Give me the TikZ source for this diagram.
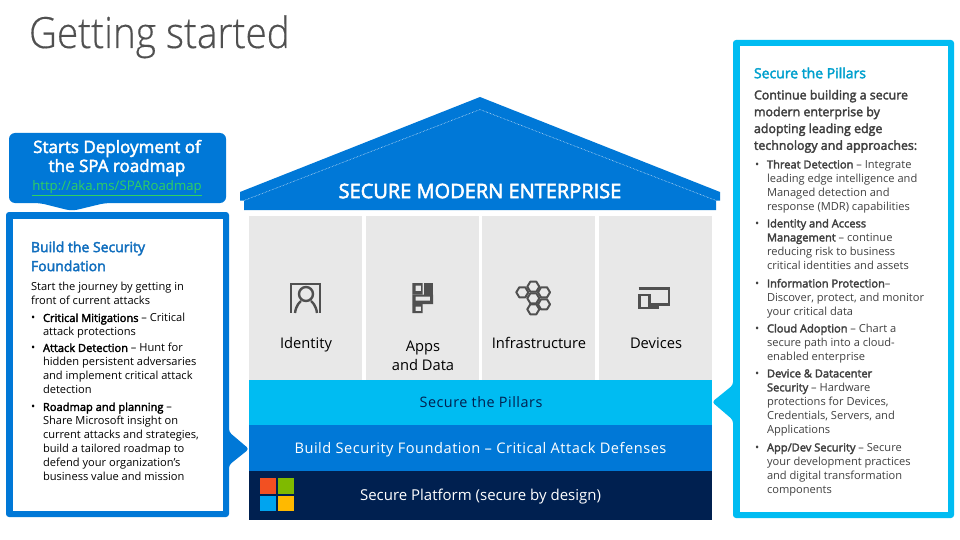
\documentclass[tikz,border=0pt]{standalone}
\usepackage{fontspec}
\setmainfont[BoldFont={Open Sans},BoldFeatures={FakeBold=2.6}]{Open Sans}
\newfontfamily\lightfont[FakeStretch=0.9,FakeBold=0.35]{Open Sans Light}
\newfontfamily\spacedfont[LetterSpace=3.5]{Open Sans}
\definecolor{cyanb}{HTML}{00BCF2}
\definecolor{blueb}{HTML}{0078D7}
\definecolor{navyb}{HTML}{002050}
\definecolor{greyc}{HTML}{E8E8E8}
\definecolor{icong}{HTML}{505050}
\definecolor{bodyg}{HTML}{404040}
\definecolor{linkg}{HTML}{30D060}
\definecolor{ltitle}{HTML}{106EBE}
\definecolor{msred}{HTML}{F25022}
\definecolor{msgreen}{HTML}{7FBA00}
\definecolor{msblue}{HTML}{00A4EF}
\definecolor{msyellow}{HTML}{FFB900}
\newcommand{\fs}[2]{\fontsize{#1}{#2}\selectfont}
\newcommand{\bl}[1]{\makebox[12pt][l]{\textbullet}#1}
\newcommand{\ct}[1]{\hspace*{12pt}#1}
\tikzset{
  x=1pt,y=-1pt,
  txt/.style={inner sep=0pt,outer sep=0pt},
  blk/.style={txt,align=left,anchor=north west},
  col/.style={fill=greyc,draw=none},
  lab/.style={txt,font=\fs{14.7}{19},text=black,align=center,anchor=base},
  icon/.style={draw=icong,line width=2.4pt,fill=none},
  iconf/.style={fill=icong,draw=none}
}
\begin{document}
\begin{tikzpicture}
\useasboundingbox (0,0) rectangle (960,540);
\fill[white] (0,0) rectangle (960,540);
\node[txt,anchor=base west,text=icong] (title) at (29,48) {\lightfont\fs{43}{48}Getting started};
% left callout
\fill[blueb,rounded corners=6pt] (9,133) -- (226,133) -- (226,203) -- (105,203) -- (72,211) -- (40,203) -- (9,203) -- cycle;
\node[txt,text=white,align=center,font=\bfseries\fs{17}{19}] (starts) at (117,158) {Starts Deployment of\\the SPA roadmap};
\node[txt,text=linkg,font=\fs{13.2}{14}] (link) at (117,188) {\underline{http://aka.ms/SPARoadmap}};
% left box
\fill[blueb,rounded corners=3pt] (6,212) -- (229,212) -- (229,432) -- (249,449) -- (229,465) -- (229,517) -- (6,517) -- cycle;
\fill[white] (12.5,218.5) rectangle (222.5,510.5);
\node[blk,text=ltitle,font=\bfseries\fs{14}{19}] (ltit) at (31,241.5) {Build the Security\\Foundation};
\node[blk,text=black,font=\fs{11.1}{14}] (lbody) at (31,282.5) {Start the journey by getting in\\
front of current attacks\\[3pt]
\bl{\textbf{Critical Mitigations} -- Critical}\\
\ct{attack protections}\\[2pt]
\bl{\textbf{Attack Detection} -- Hunt for}\\
\ct{hidden persistent adversaries}\\
\ct{and implement critical attack}\\
\ct{detection}\\[3pt]
\bl{\textbf{Roadmap and planning} --}\\
\ct{Share Microsoft insight on}\\
\ct{current attacks and strategies,}\\
\ct{build a tailored roadmap to}\\
\ct{defend your organization’s}\\
\ct{business value and mission}};
% roof
\fill[blueb] (480,97) -- (720,192) -- (720,200.7) -- (716,200.7) -- (716,210) -- (244,210) -- (244,200.7) -- (240,200.7) -- (240,192) -- cycle;
\draw[white,line width=0.5pt,densely dotted] (244,200.5) -- (480,109.5) -- (716,200.5);
\node[txt,text=white,font=\bfseries\fs{20}{22}] (sme) at (480,191) {SECURE MODERN ENTERPRISE};
% pillars
\fill[col] (249,216) rectangle (362,380);
\fill[col] (366,216) rectangle (479,380);
\fill[col] (482,216) rectangle (595,380);
\fill[col] (599,216) rectangle (712,380);
\node[lab] (identity) at (306,348) {Identity};
\node[lab] (apps) at (423,351) {Apps};
\node[lab] (appsb) at (423,370) {and Data};
\node[lab] (infra) at (539,348) {Infrastructure};
\node[lab] (devices) at (656,348) {Devices};
% identity icon
\draw[icon] (291.2,312.5) -- (291.2,284.2) -- (319.8,284.2) -- (319.8,312.5);
\draw[icon] (306,294) circle (7);
\draw[icon] (295,313) .. controls (296,305) and (300,302) .. (301,301);
\draw[icon] (317,313) .. controls (316,305) and (312,302) .. (311,301);
% apps icon
\fill[iconf,even odd rule] (412.3,283) rectangle (422.5,294.5) (415.7,285.7) rectangle (421,291);
\fill[iconf] (424,283) rectangle (433,294.5);
\fill[iconf,even odd rule] (412.3,294.5) rectangle (433,304) (415.7,296.7) rectangle (430,300.7);
\fill[iconf,even odd rule] (412.3,304) rectangle (422.5,313) (415.7,306.7) rectangle (421,311);
% infrastructure icon
\foreach \cx/\cy in {533.3/286.7,522.3/292.3,544/292.3,533.3/298.3,544/304.3,533.3/309.3}
  \draw[icong,line width=2pt,line join=round] (\cx-6,\cy) -- (\cx-3,\cy-5) -- (\cx+3,\cy-5) -- (\cx+6,\cy) -- (\cx+3,\cy+5) -- (\cx-3,\cy+5) -- cycle;
% devices icon
\draw[icon] (638.5,288.5) -- (668.8,288.5) -- (668.8,304.5) -- (651,304.5);
\draw[icon] (639.5,295) rectangle (649.5,308);
\fill[iconf] (650,304) rectangle (659,309.3);
% bands
\fill[cyanb] (249,380) rectangle (712,425);
\fill[blueb] (249,425) rectangle (712,470.7);
\fill[navyb] (249,470.7) rectangle (712,519.7);
\node[txt,text=navyb,anchor=base] (pill) at (481,407) {\spacedfont\fs{14.4}{18}Secure the Pillars};
\node[txt,text=white,anchor=base] (found) at (480.5,453) {\spacedfont\fs{14.6}{18}Build Security Foundation – Critical Attack Defenses};
\node[txt,text=white,anchor=base,font=\fs{15}{18}] (plat) at (480.5,500) {Secure Platform (secure by design)};
\fill[msred] (260,478) rectangle (275.8,494);
\fill[msgreen] (277.6,478) rectangle (293.6,494);
\fill[msblue] (260,495.6) rectangle (275.8,511);
\fill[msyellow] (277.6,495.6) rectangle (293.6,511);
% right box
\fill[cyanb,rounded corners=3pt] (733,40) -- (954,40) -- (954,518) -- (733,518) -- (733,420) -- (712,402) -- (733,385) -- cycle;
\fill[white] (739.5,46.5) rectangle (947.5,511.5);
\node[txt,anchor=west,text=cyanb!85!black,font=\bfseries\fs{14}{16}] (rtit) at (754,73) {Secure the Pillars};
\node[blk,text=bodyg,font=\bfseries\fs{12.4}{16.8}] (rcont) at (754,90) {Continue building a secure\\modern enterprise by\\adopting leading edge\\technology and approaches:};
\node[blk,text=bodyg,font=\fs{11.1}{14}] (rbody) at (755,160) {\bl{\textbf{Threat Detection} -- Integrate}\\
\ct{leading edge intelligence and}\\
\ct{Managed detection and}\\
\ct{response (MDR) capabilities}\\[3pt]
\bl{\textbf{Identity and Access}}\\
\ct{\textbf{Management} -- continue}\\
\ct{reducing risk to business}\\
\ct{critical identities and assets}\\[4pt]
\bl{\textbf{Information Protection}--}\\
\ct{Discover, protect, and monitor}\\
\ct{your critical data}\\[3pt]
\bl{\textbf{Cloud Adoption} -- Chart a}\\
\ct{secure path into a cloud-}\\
\ct{enabled enterprise}\\[3pt]
\bl{\textbf{Device \& Datacenter}}\\
\ct{\textbf{Security} -- Hardware}\\
\ct{protections for Devices,}\\
\ct{Credentials, Servers, and}\\
\ct{Applications}\\[4pt]
\bl{\textbf{App/Dev Security} -- Secure}\\
\ct{your development practices}\\
\ct{and digital transformation}\\
\ct{components}};
\end{tikzpicture}
\end{document}
